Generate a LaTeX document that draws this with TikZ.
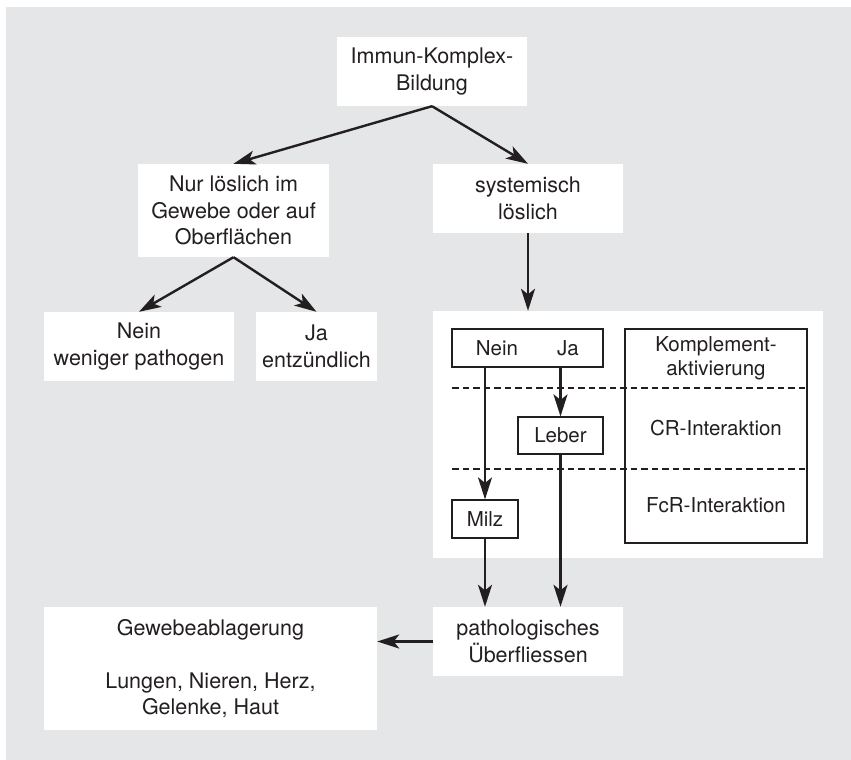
\documentclass[tikz,border=0pt]{standalone}
\usepackage{fontspec}
\setmainfont{TeX Gyre Heros}
\usepackage{tikz}
\usetikzlibrary{arrows.meta,positioning}
\definecolor{bggray}{HTML}{E5E6E8}
\definecolor{ink}{HTML}{231F20}

\begin{document}
\begin{tikzpicture}[
  x=1pt, y=-1pt,
  box/.style={rectangle, fill=white, inner sep=0pt, align=center,
              text=ink, font=\fontsize{21.5}{26.5}\selectfont},
  ibox/.style={rectangle, draw=ink, line width=1.2pt, fill=white,
               inner sep=0pt, align=center, text=ink,
               font=\fontsize{20.5}{24}\selectfont},
  label/.style={inner sep=0pt, align=center, text=ink,
                font=\fontsize{20.5}{24}\selectfont},
  arrow/.style={-{Stealth[length=22pt, width=14pt, inset=5.5pt]},
                line width=2.4pt, draw=ink},
  dashline/.style={draw=ink, line width=1.5pt, dash pattern=on 6.5pt off 4pt}
]
\useasboundingbox (0,0) rectangle (851,760);
\fill[bggray] (6,7) rectangle (851,760);

% upper tree
\node[box, minimum width=190pt, minimum height=69pt] (ikb)  at (432,71.5)  {Immun-Komplex-\\Bildung};
\node[box, minimum width=191pt, minimum height=93pt] (nur)  at (233.5,210.5) {Nur löslich im\\Gewebe oder auf\\Oberflächen};
\node[box, minimum width=190pt, minimum height=69pt] (sys)  at (528,198.5) {systemisch\\löslich};
\node[box, minimum width=190pt, minimum height=69pt] (nein) at (139,346.5) {Nein\\weniger pathogen};
\node[box, minimum width=121pt, minimum height=69pt] (ja)   at (316.5,346.5) {Ja\\entzündlich};

% panel with clearance
\node[box, minimum width=390pt, minimum height=247pt] (panel) at (628,434.5) {};
\node[ibox, minimum width=151pt, minimum height=38pt] (nj)    at (527.5,348) {};
\node[label] (njnein) at (497,348) {Nein};
\node[label] (njja)   at (568,348) {Ja};
\node[ibox, minimum width=182pt, minimum height=214pt] (kompl) at (716,436) {};
\node[label] (kakt) at (716,358) {Komplement-\\aktivierung};
\node[label] (kcr)  at (716,428) {CR-Interaktion};
\node[label] (kfcr) at (716,505) {FcR-Interaktion};
\node[ibox, minimum width=85pt, minimum height=37pt] (leber) at (560.5,435.5) {Leber};
\node[ibox, minimum width=66pt, minimum height=38pt] (milz)  at (485,519) {Milz};

\draw[dashline] (452,388) -- (807,388);
\draw[dashline] (452,469) -- (807,469);

% lower row
\node[box, minimum width=190pt, minimum height=69pt]  (path) at (528,641.5) {pathologisches\\Überfliessen};
\node[box, minimum width=333pt, minimum height=123pt] (gew)  at (210.5,668.5) {Gewebeablagerung\\[26.5pt]Lungen, Nieren, Herz,\\Gelenke, Haut};

% connectors
\draw[arrow] (ikb.south) -- (nur.north);
\draw[arrow] (ikb.south) -- (sys.north);
\draw[arrow] (nur.south) -- (nein.north);
\draw[arrow] (nur.south) -- (ja.north);
\draw[arrow] (sys.south) -- (sys.south |- panel.north);
\draw[arrow] (leber.north |- nj.south) -- (leber.north);
\draw[arrow] (milz.north |- nj.south) -- (milz.north);
\draw[arrow] (milz.south) -- (milz.south |- path.north);
\draw[arrow] (leber.south) -- (leber.south |- path.north);
\draw[arrow] (path.west) -- (path.west -| gew.east);

\end{tikzpicture}
\end{document}
